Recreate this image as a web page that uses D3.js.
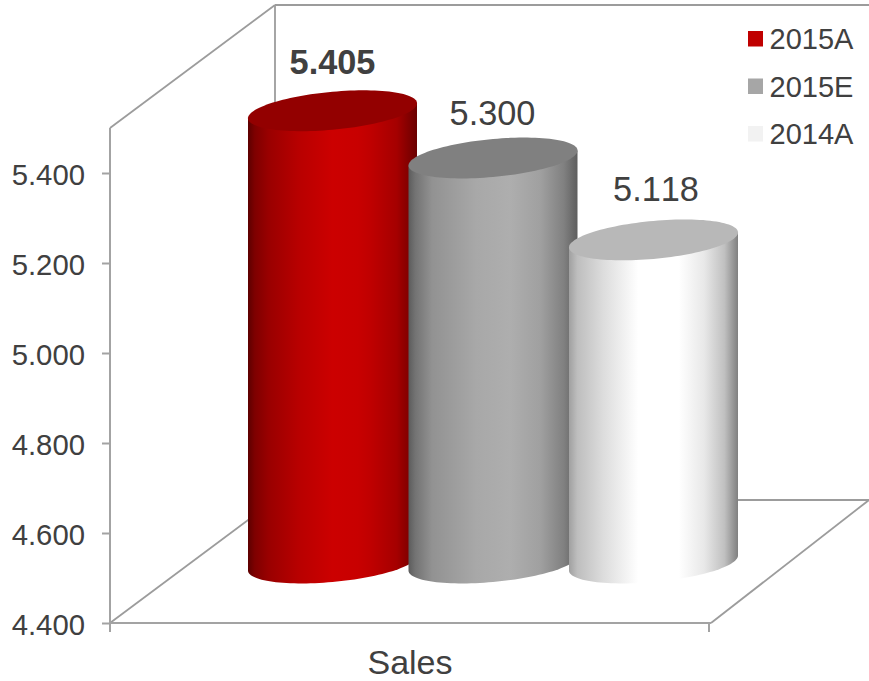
<!DOCTYPE html>
<html><head><meta charset="utf-8">
<script src="https://cdn.jsdelivr.net/npm/d3@7"></script>
<style>html,body{margin:0;padding:0;background:#fff;overflow:hidden}svg{display:block}text{font-family:"Liberation Sans",Arial,sans-serif;fill:#404040;font-kerning:none}</style>
</head><body><svg id="c" width="869" height="681"></svg>
<script>
// Sales figures per period
const seriesNames = ["2015A", "2015E", "2014A"];
const seriesValues = [5.405, 5.300, 5.118];
const valueLabels = ["5.405", "5.300", "5.118"];
const axisTicks = [4.4, 4.6, 4.8, 5.0, 5.2, 5.4];
const categoryName = "Sales";
const legendColors = ["#c00000", "#a6a6a6", "#f2f2f2"];
const topColors = ["#930000", "#808080", "#b8b8b8"];
const shading = [
  [[0,"#5c0000"],[.04,"#7e0000"],[.12,"#990000"],[.3,"#b80000"],[.5,"#cc0000"],[.65,"#c80000"],[.72,"#c00000"],[.88,"#a50000"],[1,"#6a0000"]],
  [[0,"#5c5c5c"],[.04,"#737373"],[.14,"#929292"],[.4,"#a8a8a8"],[.6,"#aeaeae"],[.78,"#a0a0a0"],[.92,"#808080"],[1,"#5e5e5e"]],
  [[0,"#a0a0a0"],[.05,"#bebebe"],[.2,"#dcdcdc"],[.41,"#ffffff"],[.65,"#ffffff"],[.8,"#e8e8e8"],[.92,"#c0c0c0"],[1,"#808080"]]
];

const svg = d3.select("#c");
const y = d3.scaleLinear().domain([4.4, 5.5]).range([623, 128]);
const x = d3.scalePoint().domain(seriesNames).range([332.5, 653.5]);

// Oblique projection: depth shifts marks right and up
const depthX = 165, depthY = 123;
const plotLeft = 110, plotRight = 709, svgRight = 869;
const lineColor = "#a3a3a3";
const yBase = y(4.4), yTop = y(5.5);

const wall = svg.append("g").attr("fill", "none").attr("stroke", "#9c9c9c").attr("stroke-width", 1.8);
const wallLine = d3.line();
[
  [[plotLeft, yTop], [plotLeft + depthX, yTop - depthY]],
  [[plotLeft + depthX, yTop - depthY], [svgRight, yTop - depthY]],
  [[plotLeft + depthX, yTop - depthY], [plotLeft + depthX, yBase - depthY]],
  [[plotLeft + depthX, yBase - depthY], [svgRight, yBase - depthY]],
  [[plotLeft, yBase], [plotLeft + depthX, yBase - depthY]],
  [[plotRight + 2, yBase], [svgRight, yBase - depthY]]
].forEach(p => wall.append("path").attr("d", wallLine(p)));

// Value axis and category axis
const axisY = svg.append("g").attr("transform", `translate(${plotLeft},0)`)
  .call(d3.axisLeft(y).tickValues(axisTicks).tickFormat(d3.format(".3f")).tickSize(8).tickPadding(17));
axisY.select(".domain").attr("d", `M0,${yTop}V${yBase + 9}`).attr("stroke", lineColor).attr("stroke-width", 2);
axisY.selectAll(".tick line").attr("stroke", lineColor).attr("stroke-width", 2);
axisY.selectAll("text").attr("font-size", 29.3).attr("font-family", '"Liberation Sans"').attr("dy", "0.4em").style("fill", "#404040");

const axisX = svg.append("g").attr("stroke", lineColor).attr("stroke-width", 2).attr("fill", "none");
axisX.append("path").attr("d", wallLine([[plotLeft, yBase], [plotRight + 2, yBase]]));
axisX.append("path").attr("d", wallLine([[plotRight, yBase], [plotRight, yBase + 9]]));

svg.append("text").attr("x", 410).attr("y", 674).attr("text-anchor", "middle").attr("font-size", 34).text(categoryName);

// Cylinders, drawn back to front so each one overlaps its left neighbour
const defs = svg.append("defs");
const halfW = 84.5, skew = 7.5, minor = 19, lift = 60;
const labelGapY = [37, 33, 38.5], labelShiftX = [0, -0.5, 2.5];
const rimPoint = (cx, cy, deg) => {
  const t = deg * Math.PI / 180;
  return [cx + halfW * Math.cos(t), cy - skew * Math.cos(t) + minor * Math.sin(t)];
};
const outline = d3.line();

seriesNames.forEach((name, i) => {
  const cx = x(name), top = y(seriesValues[i]) - lift, base = y(4.4) - lift;
  const grad = defs.append("linearGradient").attr("id", "shade" + i);
  shading[i].forEach(s => grad.append("stop").attr("offset", s[0]).attr("stop-color", s[1]));

  const front = d3.range(180, -1, -3).map(d => rimPoint(cx, base, d));
  const side = [rimPoint(cx, top, 180), ...front, rimPoint(cx, top, 0)];
  svg.append("path").attr("d", outline(side) + "Z").attr("fill", `url(#shade${i})`);

  const rim = d3.range(0, 360, 3).map(d => rimPoint(cx, top, d));
  svg.append("path").attr("d", outline(rim) + "Z").attr("fill", topColors[i]);

  svg.append("text").attr("x", cx + labelShiftX[i]).attr("y", top - labelGapY[i])
    .attr("text-anchor", "middle").attr("font-size", 34.3)
    .attr("font-weight", i === 0 ? "bold" : "normal").text(valueLabels[i]);
});

// Legend
const legend = svg.append("g").selectAll("g").data(seriesNames).join("g")
  .attr("transform", (d, i) => `translate(748,${31 + i * 47.5})`);
legend.append("rect").attr("width", 15).attr("height", 15.5).attr("fill", (d, i) => legendColors[i]);
legend.append("text").attr("x", 21.5).attr("y", 18.3).attr("font-size", 29).text(d => d);
</script></body></html>
